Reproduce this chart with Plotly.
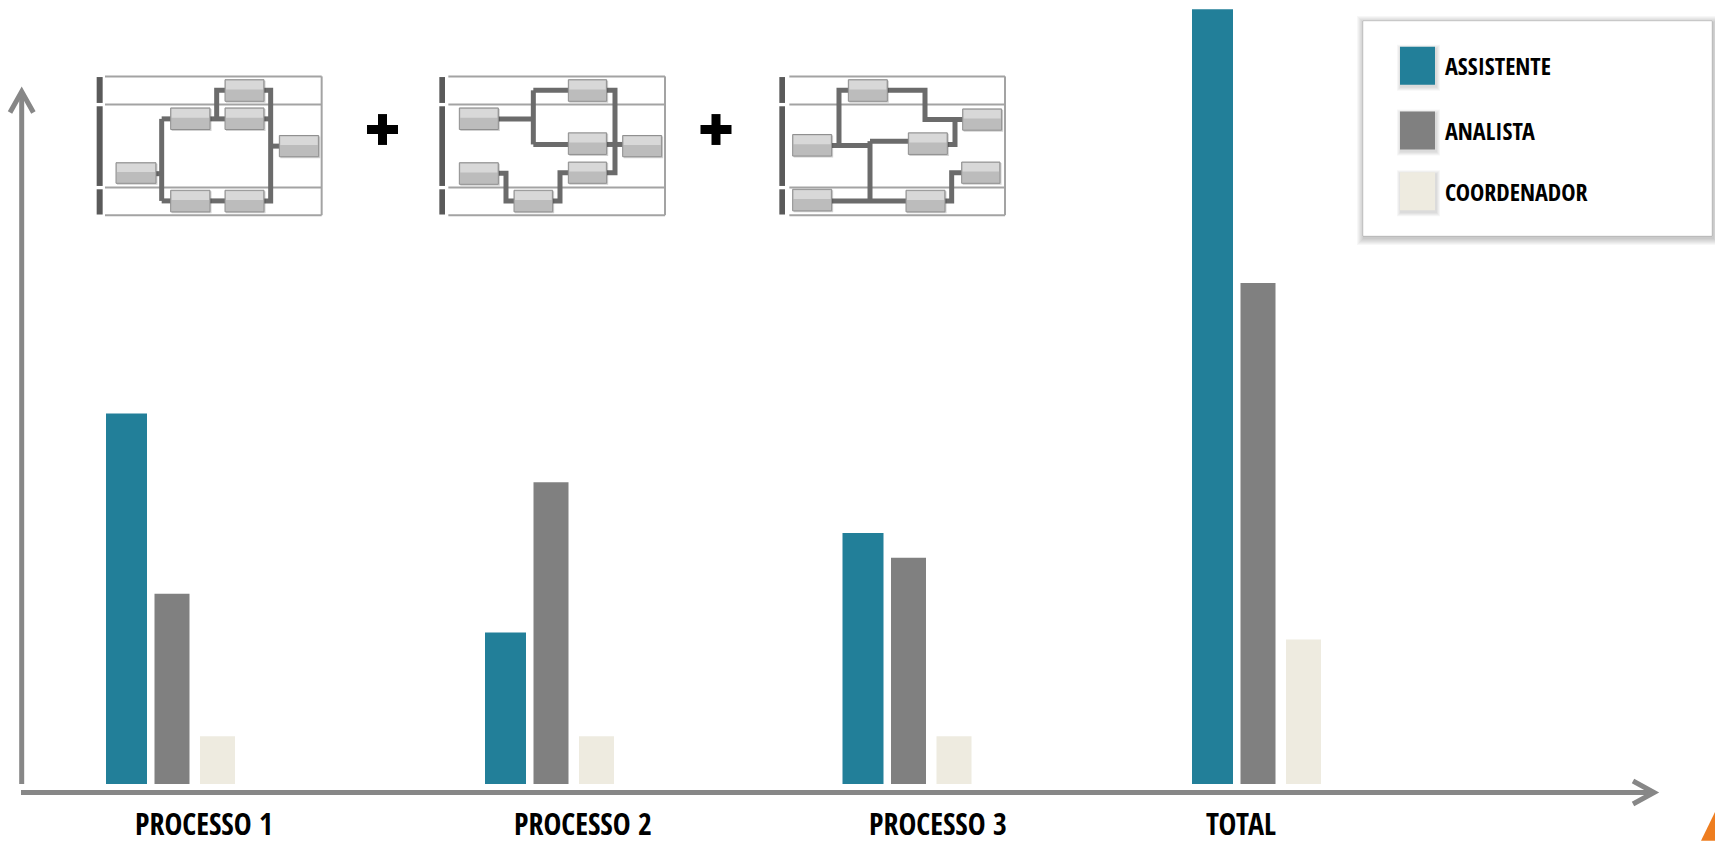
import plotly.graph_objects as go

# ---------------- data ----------------
CATEGORIES = ["PROCESSO 1", "PROCESSO 2", "PROCESSO 3", "TOTAL"]
SERIES = ["ASSISTENTE", "ANALISTA", "COORDENADOR"]
ASSISTENTE = [7.75, 3.17, 5.25, 16.2]
ANALISTA = [3.98, 6.31, 4.73, 10.48]
COORDENADOR = [1.0, 1.0, 1.0, 3.02]

# ---------------- layout constants ----------------
COLORS = ["#227F99", "#808080", "#EEEBE0"]
BAR_W = [41, 35, 35]        # bar widths in x-axis units (px)
W, H = 1715, 844
MB = 49                     # bottom margin
PH = H - MB                 # plot height in px
GROUP_X = [172, 551, 908.5, 1258]   # x-axis units are pixels (range 0..W)
LABEL_X = [204, 583, 938, 1241]
UNIT_PX = 48.0
Y0 = -8 / UNIT_PX
Y_RANGE = [Y0, Y0 + PH / UNIT_PX]
FONT = "Open Sans Condensed, Roboto Condensed, Liberation Sans, sans-serif"
AXIS_GRAY = "#878787"


def fx(x):
    return x / W


def fy(y):
    return (PH - y) / PH


shapes = []


def line(points, color, width):
    d = "M " + " L ".join(f"{fx(x):.5f},{fy(y):.5f}" for x, y in points)
    shapes.append(dict(type="path", path=d, xref="paper", yref="paper",
                       line=dict(color=color, width=width)))


def rect(x0, y0, x1, y1, fill, lc=None, lw=0):
    shapes.append(dict(type="rect", xref="paper", yref="paper",
                       x0=fx(x0), x1=fx(x1), y0=fy(y1), y1=fy(y0),
                       fillcolor=fill,
                       line=dict(color=lc if lc else fill, width=lw)))


# ---------------- bars ----------------
fig = go.Figure()
for name, vals, col, bw in zip(SERIES, [ASSISTENTE, ANALISTA, COORDENADOR], COLORS, BAR_W):
    fig.add_trace(go.Bar(x=GROUP_X, y=vals, name=name, marker_color=col, width=bw,
                         marker_line_width=0, showlegend=False))

# ---------------- axes arrows ----------------
line([(21.7, 787), (21.7, 94)], AXIS_GRAY, 5)
line([(10, 113), (21.7, 92), (33.4, 113)], AXIS_GRAY, 5)
line([(21, 795.5), (1652, 795.5)], AXIS_GRAY, 5)
line([(1633, 784), (1654, 795.5), (1633, 807)], AXIS_GRAY, 5)

# ---------------- process diagrams ----------------
DIAGRAMS = [
    dict(o=(80, 60), xl=75, xr=725, bar=(50, 68),
         boxes=[(108, 228, 310, 372), (272, 390, 145, 210), (435, 552, 145, 210),
                (435, 552, 60, 125), (598, 716, 228, 292), (272, 390, 393, 458),
                (435, 552, 393, 458)],
         conns=[[(228, 343), (245, 343)], [(245, 178), (245, 425)],
                [(245, 178), (272, 178)], [(245, 425), (272, 425)],
                [(390, 178), (435, 178)], [(410, 178), (410, 92), (435, 92)],
                [(552, 92), (572, 92), (572, 425), (552, 425)],
                [(552, 178), (572, 178)], [(572, 260), (598, 260)],
                [(390, 425), (435, 425)]]),
    dict(o=(420, 60), xl=85, xr=735, bar=(58, 75),
         boxes=[(118, 235, 145, 210), (445, 560, 60, 125), (445, 560, 220, 285),
                (608, 725, 228, 292), (118, 235, 310, 375), (282, 398, 393, 458),
                (445, 560, 308, 372)],
         conns=[[(235, 178), (340, 178)], [(340, 92), (340, 255)],
                [(340, 92), (445, 92)], [(340, 255), (445, 255)],
                [(560, 92), (585, 92), (585, 340), (560, 340)],
                [(560, 255), (608, 255)],
                [(235, 342), (258, 342), (258, 425), (282, 425)],
                [(398, 425), (420, 425), (420, 340), (445, 340)]]),
    dict(o=(760, 60), xl=88, xr=735, bar=(58, 75),
         boxes=[(98, 215, 225, 290), (265, 382, 60, 125), (445, 562, 220, 285),
                (608, 725, 148, 212), (605, 720, 308, 372), (98, 215, 390, 455),
                (438, 555, 393, 458)],
         conns=[[(215, 258), (330, 258)], [(237, 258), (237, 92), (265, 92)],
                [(382, 92), (495, 92), (495, 180), (608, 180)],
                [(330, 245), (330, 425)], [(330, 245), (445, 245)],
                [(215, 425), (438, 425)],
                [(562, 255), (585, 255), (585, 180)],
                [(555, 425), (575, 425), (575, 340), (605, 340)]]),
]
LANES = [50, 135, 385, 468]
for dg in DIAGRAMS:
    ox, oy = dg["o"]

    def P(x, y, ox=ox, oy=oy):
        return (ox + x / 3.0, oy + y / 3.0)

    for ly in LANES:
        line([P(dg["xl"], ly), P(dg["xr"], ly)], "#a3a3a3", 2)
    line([P(dg["xr"], LANES[0]), P(dg["xr"], LANES[-1])], "#a3a3a3", 2)
    b0, b1 = dg["bar"]
    for s0, s1 in [(52, 130), (140, 380), (390, 466)]:
        a = P(b0, s0)
        b = P(b1, s1)
        rect(a[0], a[1], b[0], b[1], "#5a5a5a")
    for c in dg["conns"]:
        line([P(x, y) for x, y in c], "#6b6b6b", 5)
    for x0, x1, y0, y1 in dg["boxes"]:
        a = P(x0, y0)
        b = P(x1, y1)
        rect(a[0] + 1, a[1] + 1, b[0] + 1.5, b[1] + 1.5, "rgba(0,0,0,0.18)")
        rect(a[0], a[1], b[0], b[1], "#bcbcbc", "#8f8f8f", 1)
        rect(a[0] + 1, a[1] + 1, b[0] - 1, a[1] + (b[1] - a[1]) * 0.45, "#d8d8d8")

# plus signs
for cx in (382.5, 716):
    line([(cx - 15.5, 130), (cx + 15.5, 130)], "#000000", 9)
    line([(cx, 114.5), (cx, 145.5)], "#000000", 9)

# ---------------- legend (drawn) ----------------
LX0, LY0, LX1, LY1 = 1363, 21, 1712, 237
for i in range(7, 0, -1):
    rect(LX0 - i + 1, LY0 - i + 2, LX1 + i + 1, LY1 + i + 2, "rgba(0,0,0,0.03)")
rect(LX0, LY0, LX1, LY1, "#ffffff", "rgba(0,0,0,0.12)", 1)
LEG_Y = [66, 131, 192]
annotations = []
for name, col, cy in zip(SERIES, COLORS, LEG_Y):
    for i in range(4, 0, -1):
        rect(1400 - i + 1, cy - 19 - i + 2, 1435 + i + 1, cy + 19 + i + 2, "rgba(0,0,0,0.035)")
    rect(1400, cy - 19, 1435, cy + 19, col)
    annotations.append(dict(x=fx(1443), y=fy(cy), xref="paper", yref="paper",
                            text=name, showarrow=False, xanchor="left", yanchor="middle",
                            font=dict(family=FONT, size=24, color="#000000", weight="bold")))

# orange corner
shapes.append(dict(type="path", xref="paper", yref="paper",
                   path=f"M {fx(1701)},{fy(844)} L {fx(1715)},{fy(815)} L {fx(1715)},{fy(844)} Z",
                   fillcolor="#EE7D1F", line=dict(width=0)))

fig.update_layout(
    width=W, height=H, autosize=False,
    margin=dict(l=0, r=0, t=0, b=MB, pad=0),
    paper_bgcolor="#ffffff", plot_bgcolor="#ffffff",
    barmode="group", bargap=0.6094, bargroupgap=0.165,
    xaxis=dict(range=[0, W], tickmode="array", tickvals=LABEL_X, ticktext=CATEGORIES,
               showgrid=False, zeroline=False, showline=False, ticks="",
               tickfont=dict(family=FONT, size=30, color="#000000", weight="bold"),
               ticklabelstandoff=12),
    yaxis=dict(range=Y_RANGE, visible=False, showgrid=False, zeroline=False),
    shapes=shapes, annotations=annotations,
)

fig.write_html("out.html", config={"displayModeBar": False},
               post_script="document.body.style.margin='0';")
